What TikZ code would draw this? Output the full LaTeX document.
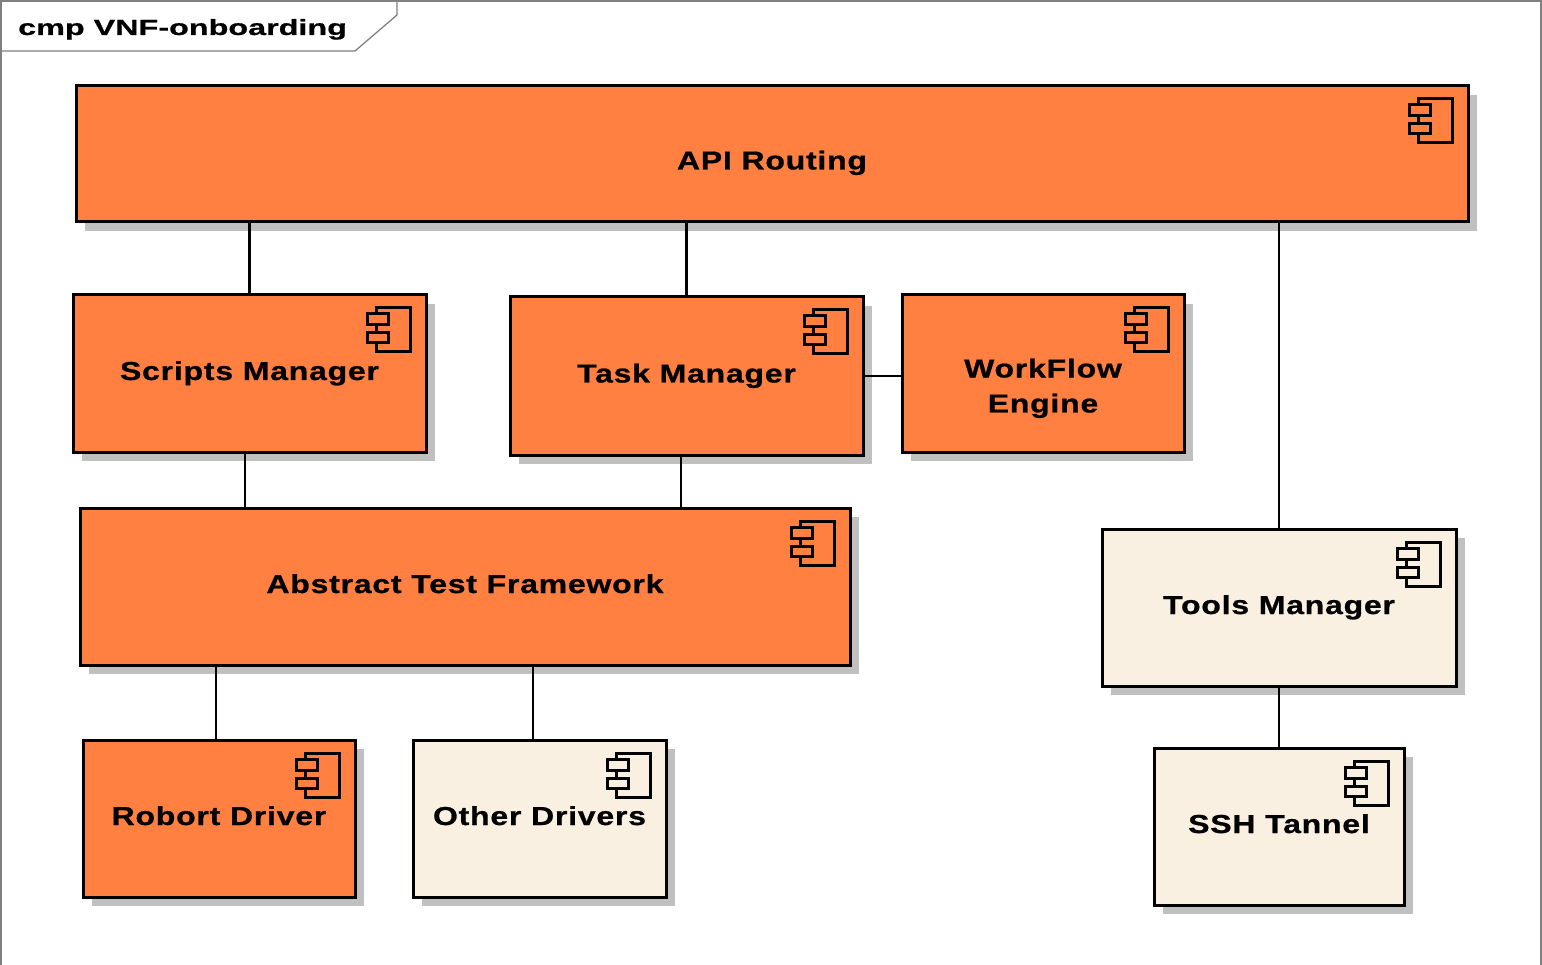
\documentclass[tikz,border=0pt]{standalone}
\usepackage{fontspec}
\usetikzlibrary{shadows}
\newfontfamily\boxfont{Liberation Sans Bold}[FakeStretch=1.23,LetterSpace=3,FakeBold=0.8]
\newfontfamily\titlefont{Liberation Sans Bold}[FakeStretch=1.47,FakeBold=0.6]
\definecolor{orangec}{RGB}{255,128,64}
\definecolor{creamc}{RGB}{250,240,225}
\definecolor{shadowc}{RGB}{192,192,192}
\definecolor{framec}{RGB}{128,128,128}
\tikzset{
  comp/.style={draw=black, line width=3pt, rectangle, outer sep=0pt, inner sep=0pt,
    anchor=north west, align=center, text height=18pt, text depth=5pt,
    font=\boxfont\fontsize{26}{35}\selectfont,
    general shadow={fill=shadowc, shadow xshift=9pt, shadow yshift=-9pt}},
  orangebox/.style={comp, fill=orangec},
  creambox/.style={comp, fill=creamc},
  conn/.style={draw=black, line width=2.8pt},
  compicon/.pic={
    \draw[line width=3pt, fill=#1] (-50,13) rectangle (-16,57);
    \draw[line width=3pt, fill=#1] (-59,19) rectangle (-38,30);
    \draw[line width=3pt, fill=#1] (-59,38) rectangle (-38,48);
  }
}
\begin{document}
\begin{tikzpicture}[x=1pt,y=-1pt]
\useasboundingbox (0,0) rectangle (1542,965);
\fill[white] (0,0) rectangle (1542,965);
% frame
\draw[framec, line width=1.3pt] (1,966) -- (1,1) -- (1541,1) -- (1541,966);
\draw[framec, line width=1.3pt] (1,51) -- (355,51) -- (397,15) -- (397,1);
\node[anchor=base west, inner sep=0pt, font=\titlefont\fontsize{22}{26}\selectfont] (title) at (18,35) {cmp VNF-onboarding};
% components
\node[orangebox, minimum width=1392pt, minimum height=136pt, text height=36pt] (api) at (76,86) {API Routing};
\node[orangebox, minimum width=353pt, minimum height=157pt] (scripts) at (73,295) {Scripts Manager};
\node[orangebox, minimum width=353pt, minimum height=158pt] (task) at (510,297) {Task Manager};
\node[orangebox, minimum width=282pt, minimum height=157pt, text height=83pt] (workflow) at (902,295) {WorkFlow\\Engine};
\node[orangebox, minimum width=770pt, minimum height=157pt] (atf) at (80,508) {Abstract Test Framework};
\node[creambox, minimum width=354pt, minimum height=157pt] (tools) at (1102,529) {Tools Manager};
\node[orangebox, minimum width=272pt, minimum height=157pt] (robort) at (83,740) {Robort Driver};
\node[creambox, minimum width=253pt, minimum height=157pt] (other) at (413,740) {Other Drivers};
\node[creambox, minimum width=250pt, minimum height=157pt] (ssh) at (1154,748) {SSH Tannel};
% icons
\pic at (api.north east) {compicon=orangec};
\pic at (scripts.north east) {compicon=orangec};
\pic at (task.north east) {compicon=orangec};
\pic at (workflow.north east) {compicon=orangec};
\pic at (atf.north east) {compicon=orangec};
\pic at (tools.north east) {compicon=creamc};
\pic at (robort.north east) {compicon=orangec};
\pic at (other.north east) {compicon=creamc};
\pic at (ssh.north east) {compicon=creamc};
% connectors
\draw[conn] (scripts.north) -- (scripts.north |- api.south);
\draw[conn] (task.north) -- (task.north |- api.south);
\draw[conn] (tools.north) -- (tools.north |- api.south);
\draw[conn] (task.east) -- (workflow.west |- task.east);
\draw[conn] ([xshift=-4.5pt]scripts.south) -- ([xshift=-4.5pt]scripts.south |- atf.north);
\draw[conn] ([xshift=-5.5pt]task.south) -- ([xshift=-5.5pt]task.south |- atf.north);
\draw[conn] ([xshift=-3pt]robort.north) -- ([xshift=-3pt]robort.north |- atf.south);
\draw[conn] ([xshift=-6.5pt]other.north) -- ([xshift=-6.5pt]other.north |- atf.south);
\draw[conn] (ssh.north) -- (ssh.north |- tools.south);
\end{tikzpicture}
\end{document}
